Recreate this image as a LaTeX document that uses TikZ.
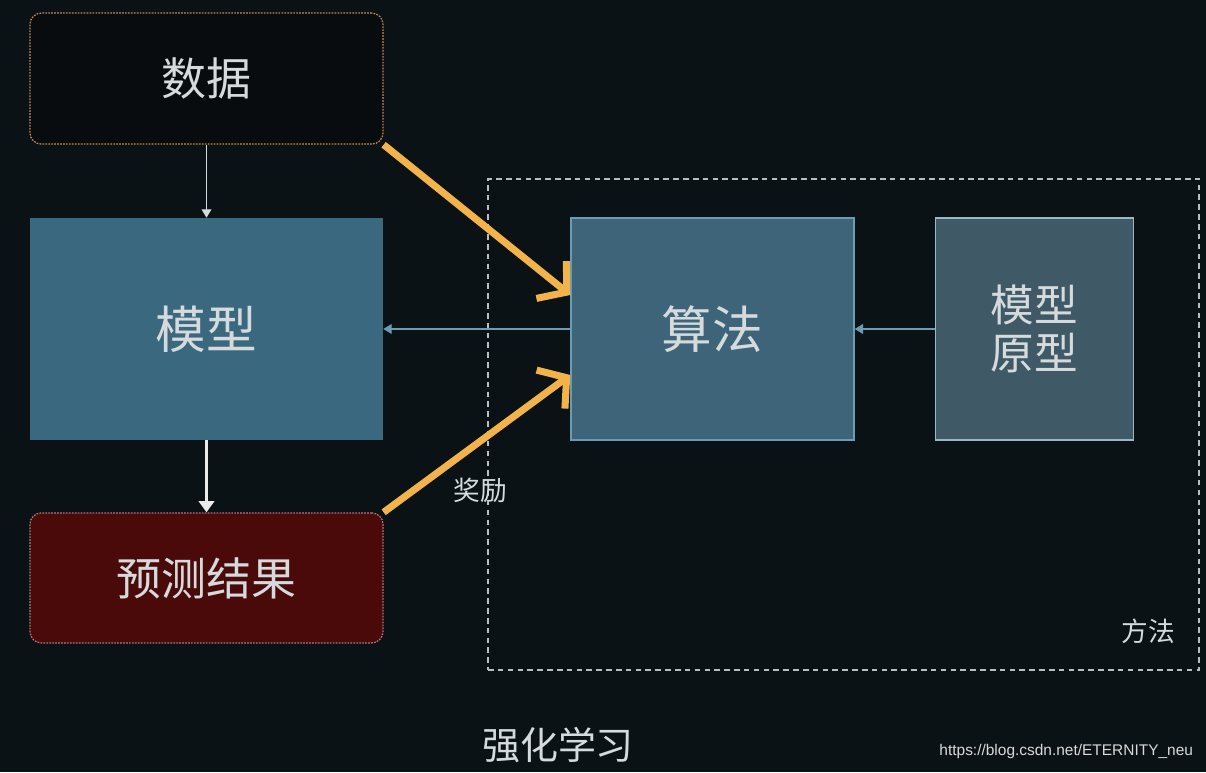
\documentclass[tikz,border=0pt]{standalone}
\usepackage{fontspec}
\setmainfont{Noto Sans CJK SC}
\newfontfamily\wmfont{Liberation Sans}
\usepackage{xcolor}
\definecolor{bgdark}{HTML}{0B1215}
\definecolor{datadark}{HTML}{080C0E}
\definecolor{txtlight}{HTML}{D5DADD}
\definecolor{modelblue}{HTML}{3A687E}
\definecolor{algoblue}{HTML}{3D6478}
\definecolor{algoedge}{HTML}{6A9CB3}
\definecolor{protogray}{HTML}{3F5A66}
\definecolor{protoedge}{HTML}{9AB8C4}
\definecolor{resultred}{HTML}{4A0A0A}
\definecolor{resultedge}{HTML}{B07878}
\definecolor{dataedge}{HTML}{C08A5A}
\definecolor{rewardgold}{HTML}{F2B44A}
\definecolor{dashgray}{HTML}{B8BEC2}
\usetikzlibrary{arrows.meta, positioning, backgrounds}
\tikzset{
  databox/.style  ={rectangle, rounded corners=8pt, draw=dataedge, line width=0.9pt, dash pattern=on 1.2pt off 0.9pt,
                    fill=datadark, text=txtlight, align=center, minimum width=8.825cm, minimum height=3.275cm, font=\fontsize{32}{36}\selectfont},
  modelbox/.style ={rectangle, fill=modelblue, text=txtlight, align=center,
                    minimum width=8.825cm, minimum height=5.55cm, font=\fontsize{36}{40}\selectfont},
  resultbox/.style={rectangle, rounded corners=8pt, draw=resultedge, line width=0.9pt, dash pattern=on 1.2pt off 0.9pt,
                    fill=resultred, text=txtlight, align=center, minimum width=8.825cm, minimum height=3.25cm, font=\fontsize{32}{36}\selectfont},
  algobox/.style  ={rectangle, draw=algoedge, line width=1pt, fill=algoblue, text=txtlight, align=center,
                    minimum width=7.075cm, minimum height=5.55cm, font=\fontsize{36}{40}\selectfont},
  protobox/.style ={rectangle, draw=protoedge, line width=1pt, fill=protogray, text=txtlight, align=center,
                    minimum width=4.95cm, minimum height=5.55cm, font=\fontsize{31}{34}\selectfont},
  methodbox/.style={rectangle, draw=dashgray, line width=1.3pt, dash pattern=on 4pt off 3pt,
                    minimum width=17.775cm, minimum height=12.275cm, inner sep=0pt},
  thinarr/.style  ={-{Triangle[length=6pt, width=7pt]}, line width=0.9pt, color=txtlight},
  thickarr/.style ={-{Triangle[length=8pt, width=11pt]}, line width=2pt, color=white!92!black},
  bluearr/.style  ={-{Triangle[length=6pt, width=7pt]}, line width=0.9pt, color=algoedge},
  goldarr/.style  ={-{Straight Barb[length=14pt, width=34pt]}, line width=5pt, color=rewardgold},
  smlbl/.style    ={font=\fontsize{19}{22}\selectfont, text=txtlight},
}

\begin{document}
\begin{tikzpicture}
  \fill[bgdark] (0,0) rectangle (30.15,19.3);
  \useasboundingbox (0,0) rectangle (30.15,19.3);
  \node[modelbox] (model) at (5.1625,11.075) {模型};
  \node[databox, above=1.825cm of model] (data) {数据};
  \node[resultbox, below=1.8cm of model] (result) {预测结果};
  \node[algobox, right=4.675cm of model] (algo) {算法};
  \node[protobox, right=2.0cm of algo] (proto) {模型\\原型};
  \node[methodbox] (method) at (21.0875,8.6875) {};
  \node[smlbl, anchor=south east] (methodlbl) at ([xshift=-0.5cm, yshift=0.55cm]method.south east) {方法};
  \draw[thinarr] (data) -- (model);
  \draw[thickarr] (model) -- (result);
  \draw[bluearr] (algo) -- (model);
  \draw[bluearr] (proto) -- (algo);
  \draw[goldarr] (data.south east) -- ([yshift=0.85cm]algo.west);
  \draw[goldarr] (result.north east) -- ([yshift=-1.15cm]algo.west);
  \node[smlbl] (reward) at (12.0,7.05) {奖励};
  \node[font=\fontsize{27}{30}\selectfont, text=txtlight] (title) at (13.95,0.675) {强化学习};
  \node[font=\wmfont\fontsize{11}{13}\selectfont, text=white!85!black, anchor=east] (wm) at (29.95,0.5) {https://blog.csdn.net/ETERNITY\_neu};
\end{tikzpicture}
\end{document}
